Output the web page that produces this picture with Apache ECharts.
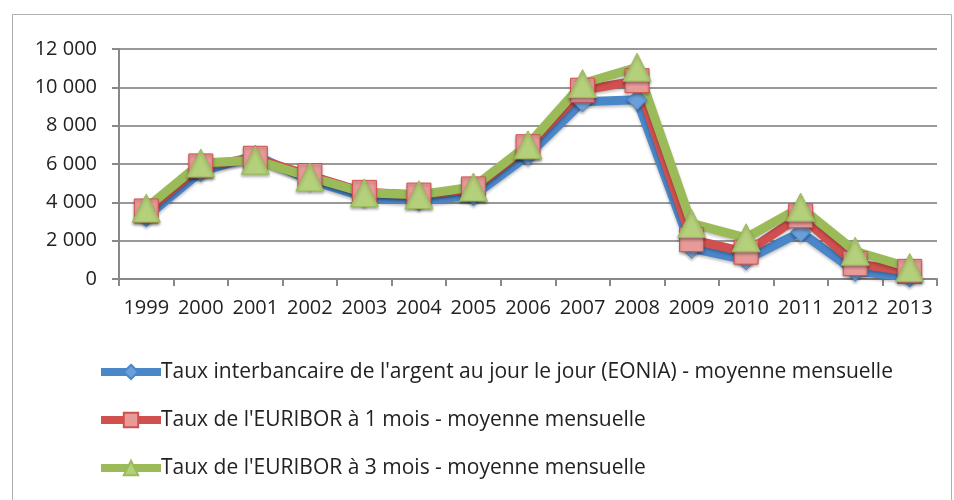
<!DOCTYPE html>
<html><head><meta charset="utf-8">
<script src="https://cdn.jsdelivr.net/npm/echarts@6/dist/echarts.min.js"></script>
<style>html,body{margin:0;padding:0;background:#fff}#c{width:954px;height:500px}</style>
</head><body><div id="c"></div>
<script>
var years = ['1999','2000','2001','2002','2003','2004','2005','2006','2007','2008','2009','2010','2011','2012','2013'];
var eonia = [3250, 5600, 6450, 5150, 4280, 4100, 4350, 6450, 9250, 9350, 1600, 1000, 2450, 400, 100];
var euribor1 = [3550, 5900, 6300, 5400, 4520, 4380, 4700, 6900, 9850, 10350, 2050, 1400, 3300, 800, 400];
var euribor3 = [3700, 6050, 6200, 5320, 4500, 4400, 4800, 7000, 10200, 11050, 2900, 2150, 3750, 1450, 600];
var names = ["Taux interbancaire de l'argent au jour le jour (EONIA) - moyenne mensuelle",
             "Taux de l'EURIBOR à 1 mois - moyenne mensuelle",
             "Taux de l'EURIBOR à 3 mois - moyenne mensuelle"];
var yTicks = [0, 2000, 4000, 6000, 8000, 10000, 12000];

var font = 'Open Sans, Liberation Sans, sans-serif';
function mk(name, data, color, fill, symbol, size) {
  return {
    name: name, type: 'line', data: data, symbol: symbol, symbolSize: size,
    lineStyle: {color: color, width: 9, shadowColor: 'rgba(0,0,0,0.25)', shadowBlur: 3, shadowOffsetY: 2},
    itemStyle: {color: fill, borderColor: color, borderWidth: 1, shadowColor: 'rgba(0,0,0,0.3)', shadowBlur: 3, shadowOffsetY: 2},
    emphasis: {disabled: true}, animation: false
  };
}
var chart = echarts.init(document.getElementById('c'));
chart.setOption({
  animation: false,
  graphic: [{type: 'rect', shape: {x: 12.5, y: 14.5, width: 939, height: 500}, style: {fill: 'none', stroke: '#b0b0b0', lineWidth: 1}}],
  grid: {left: 119, right: 17, top: 49, bottom: 221},
  xAxis: {
    type: 'category', data: years, boundaryGap: true,
    axisLine: {lineStyle: {color: '#888', width: 2}},
    axisTick: {show: true, length: 7, lineStyle: {color: '#888', width: 2}},
    axisLabel: {color: '#222', fontSize: 20, fontFamily: font, margin: 19, interval: 0, hideOverlap: false}
  },
  yAxis: {
    type: 'value', min: 0, max: 12000, interval: 2000,
    axisLine: {show: true, lineStyle: {color: '#888', width: 2}},
    axisTick: {show: true, length: 7, lineStyle: {color: '#888', width: 2}},
    splitLine: {lineStyle: {color: '#999', width: 2}},
    axisLabel: {color: '#222', fontSize: 20, fontFamily: font, margin: 22,
      formatter: function (v) { return yTicks.indexOf(v) >= 0 ? String(v).replace(/\B(?=(\d{3})+(?!\d))/g, ' ') : ''; }}
  },
  legend: {
    orient: 'vertical', left: 92, top: 355, itemWidth: 60, itemHeight: 18, itemGap: 24,
    lineStyle: {width: 8},
    textStyle: {fontSize: 21, lineHeight: 24, fontFamily: font, color: '#222', padding: [0, 0, 0, -5]},
    data: names
  },
  series: [
    mk(names[0], eonia, '#4a86c8', '#6a9fd8', 'diamond', 20),
    mk(names[1], euribor1, '#d0504f', '#e89a98', 'rect', 24),
    mk(names[2], euribor3, '#9bbb59', '#b5d07a', 'triangle', 28)
  ]
});
</script></body></html>
